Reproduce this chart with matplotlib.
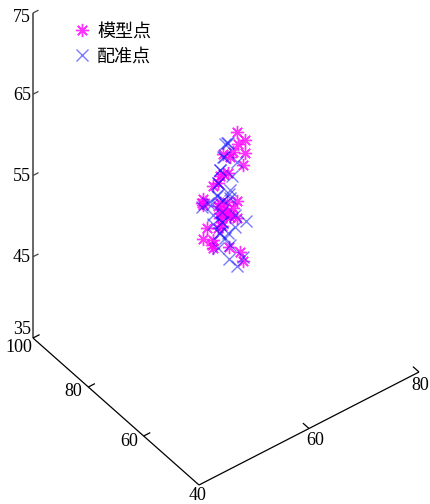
import matplotlib
matplotlib.use("Agg")
import numpy as np
import matplotlib.pyplot as plt

plt.rcParams['font.family'] = ['Liberation Serif', 'Noto Sans CJK SC', 'DejaVu Sans']

model_x = [62.0, 63.5, 62.2, 63.5, 61.3, 63.1, 59.5, 60.7, 59.5, 60.4, 58.9, 57.6, 58.5, 55.8, 55.6, 58.9, 60.2,
           62.0, 59.5, 58.5, 62.0, 60.7, 58.9, 56.5, 58.5, 59.3, 55.8, 57.6, 57.6, 60.5, 62.5, 63.1, 59.8, 61.3,
           60.0, 58.9, 60.9, 57.4, 55.9]
model_z = [61.7, 60.3, 60.2, 58.7, 59.5, 57.3, 59.9, 59.1, 57.4, 57.3, 57.4, 56.6, 56.7, 55.6, 55.2, 54.1, 53.8,
           53.2, 53.1, 53.8, 51.2, 51.7, 52.3, 51.9, 51.2, 51.1, 50.7, 50.0, 49.0, 48.1, 46.8, 45.5, 52.6, 52.7,
           52.2, 52.9, 52.0, 49.5, 54.9]
model_y = [70] * len(model_x)

reg_x = [59.8, 60.4, 59.5, 62.0, 58.9, 61.1, 58.5, 60.7, 58.4, 60.7, 56.7, 58.4, 60.5, 55.6, 57.5, 59.5,
         57.6, 59.3, 61.6, 63.6, 57.6, 59.3, 61.6, 60.4, 59.8, 58.5, 60.7, 60.5, 63.1, 62.0, 58.9,
         60.1, 59.6, 58.9, 58.5, 59.2, 58.7]
reg_z = [61.1, 61.0, 59.6, 58.0, 58.2, 56.6, 56.7, 55.1, 55.1, 54.1, 54.9, 55.3, 54.7, 54.7, 54.4, 54.3,
         53.1, 52.8, 51.7, 50.3, 51.9, 51.6, 50.2, 49.9, 49.5, 48.7, 48.3, 46.7, 46.0, 45.2, 50.4,
         61.0, 59.5, 58.2, 56.7, 51.7, 50.5]
reg_y = [70] * len(reg_x)

x_ticks = [40, 60, 80]
y_ticks = [40, 60, 80, 100]
z_ticks = [35, 45, 55, 65, 75]
legend_labels = ["模型点", "配准点"]


def project(x, y, z):
    # oblique view of the box, result is in figure pixels
    x, y, z = np.asarray(x, float), np.asarray(y, float), np.asarray(z, float)
    px = 199 + (x - 40) * 5.5 - (y - 40) * 2.767
    py = 485 - (x - 40) * 2.825 - (y - 40) * 2.45 - (z - 35) * 8.125
    return px, py


def draw_line(ax, start, end, color="black", lw=0.9):
    px, py = project(*zip(start, end))
    ax.plot(px, py, color=color, lw=lw, solid_capstyle="butt")


fig = plt.figure(figsize=(4.3, 5.04), dpi=100)
ax = fig.add_axes([0, 0, 1, 1])
ax.set_xlim(0, 430)
ax.set_ylim(504, 0)
ax.axis("off")

# axis lines
draw_line(ax, (40, 40, 35), (80, 40, 35))
draw_line(ax, (40, 40, 35), (40, 100, 35))
draw_line(ax, (40, 100, 35), (40, 100, 75), color="#666666", lw=1.4)

# ticks and labels
for x in x_ticks[1:]:
    draw_line(ax, (x, 40, 35), (x, 42.2, 35))
    px, py = project(x, 40, 35)
    ax.text(px + 6 if x < 80 else px + 1, py + 12 if x < 80 else py + 14, str(x), fontsize=13, ha="center", va="center")
for y in y_ticks[1:]:
    draw_line(ax, (40, y, 35), (41.2, y, 35))
    px, py = project(40, y, 35)
    ax.text(px - 6 if y < 100 else px - 1, py + 5 if y < 100 else py + 10, str(y), fontsize=13, ha="right", va="center")
px, py = project(40, 40, 35)
ax.text(px - 1, py + 11, "40", fontsize=13, ha="center", va="center")
for z in z_ticks:
    px, py = project(40, 100, z)
    if z > 35:
        draw_line(ax, (40, 100, z), (41, 100, z), color="#444444")
    shift = {35: -8, 75: 4}.get(z, 1)
    ax.text(px - 2, py + shift, str(z), fontsize=13, ha="right", va="center")

# points
px, py = project(model_x, model_y, model_z)
ax.plot(px, py, ls="none", marker=(8, 2, 0), ms=9.5, mew=1.0, color="#ff00ff", alpha=0.8, label=legend_labels[0])
px, py = project(reg_x, reg_y, reg_z)
ax.plot(px, py, ls="none", marker="x", ms=8.5, mew=1.0, color="#1010ff", alpha=0.55, label=legend_labels[1])

ax.legend(loc="upper left", bbox_to_anchor=(0.17, 0.954), frameon=False, fontsize=13, numpoints=1,
          labelspacing=0.45, handlelength=1.0, handletextpad=0.33, borderpad=0, borderaxespad=0)

fig.savefig("out.png", dpi=100)
